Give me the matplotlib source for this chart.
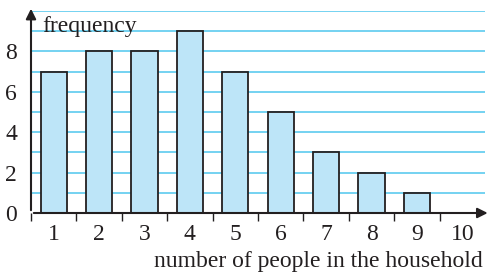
import matplotlib.pyplot as plt
import numpy as np

# household size vs frequency
people = [1, 2, 3, 4, 5, 6, 7, 8, 9, 10]
frequency = [7, 8, 8, 9, 7, 5, 3, 2, 1, 0]
ytick_vals = [0, 2, 4, 6, 8]
grid_levels = [1, 2, 3, 4, 5, 6, 7, 8, 9, 10]

plt.rcParams['font.family'] = ['Liberation Serif', 'DejaVu Serif']

W, H = 487, 274
fig = plt.figure(figsize=(W / 100, H / 100), dpi=100)
ax = fig.add_axes([31 / W, (H - 213) / H, 454 / W, 202 / H])
ax.set_xlim(0.5, 10.5)
ax.set_ylim(0, 10)

for lv in grid_levels:
    ax.axhline(lv, color='#5ccbef', lw=1.2, zorder=0)

ax.bar(people, frequency, width=0.58, color='#bde5f8', edgecolor='#231f20', lw=1.3, zorder=2)

for s in ax.spines.values():
    s.set_visible(False)

# axes with arrows
ax.annotate('', xy=(10.62, 0), xytext=(0.5, 0), xycoords='data',
            arrowprops=dict(arrowstyle='-|>', color='#231f20', lw=1.5, mutation_scale=15),
            annotation_clip=False, zorder=3)
ax.annotate('', xy=(0.5, 10.25), xytext=(0.5, 0), xycoords='data',
            arrowprops=dict(arrowstyle='-|>', color='#231f20', lw=1.5, mutation_scale=15),
            annotation_clip=False, zorder=3)

# small ticks between categories
ax.set_xticks(np.arange(0.5, 10, 1.0))
ax.set_xticklabels([])
ax.tick_params(axis='x', direction='out', length=6, width=1, color='#231f20')
ax.set_xticks(people, minor=True)
ax.set_xticklabels([str(p) for p in people], minor=True, fontsize=17, color='#231f20')
ax.tick_params(axis='x', which='minor', length=0, pad=8)

ax.set_yticks(ytick_vals)
ax.set_yticklabels([str(v) for v in ytick_vals], fontsize=17, color='#231f20')
ax.tick_params(axis='y', length=0, pad=10)

ax.text(0.75, 8.95, 'frequency', fontsize=17, color='#231f20', va='baseline', ha='left')
fig.text(483 / W, 1 - 262 / H, 'number of people in the household', fontsize=17,
         color='#231f20', ha='right', va='center')

fig.savefig('out.png', dpi=100)
